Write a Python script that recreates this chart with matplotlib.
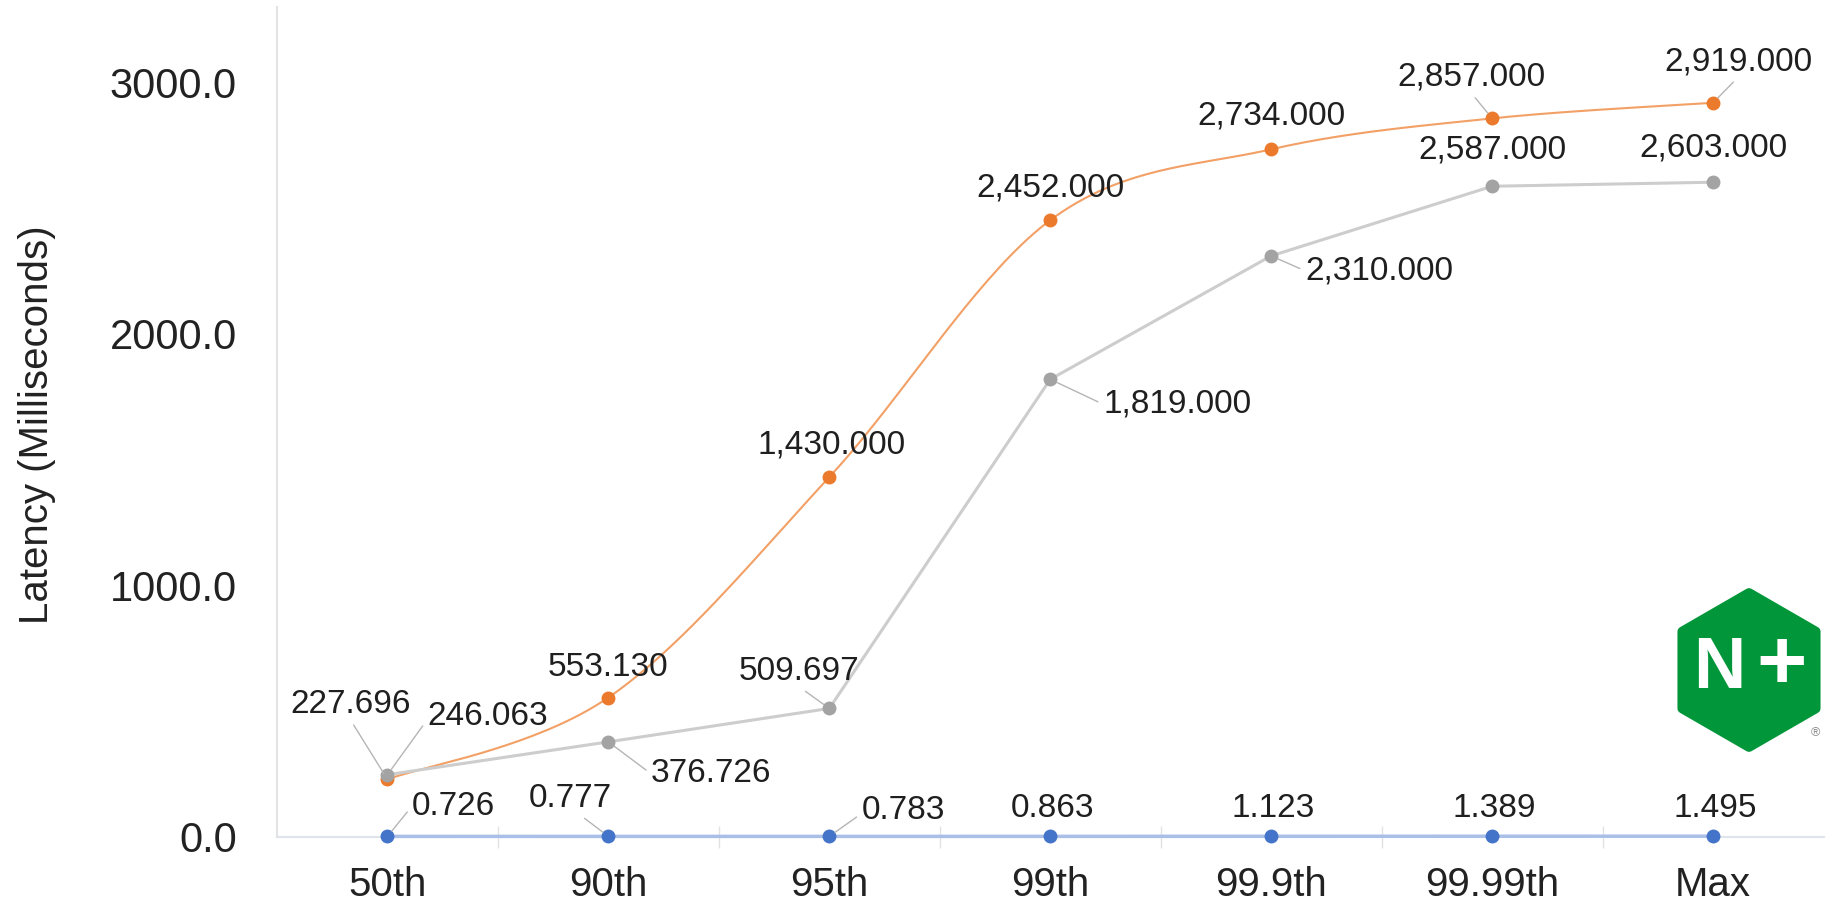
import numpy as np
import matplotlib
matplotlib.use('Agg')
import matplotlib.pyplot as plt
from matplotlib.patches import Polygon

plt.rcParams['font.family'] = ['Liberation Sans', 'DejaVu Sans']

# data
percentiles = ['50th', '90th', '95th', '99th', '99.9th', '99.99th', 'Max']
orange_vals = [227.696, 553.130, 1430.0, 2452.0, 2734.0, 2857.0, 2919.0]
gray_vals = [246.063, 376.726, 509.697, 1819.0, 2310.0, 2587.0, 2603.0]
blue_vals = [0.726, 0.777, 0.783, 0.863, 1.123, 1.389, 1.495]
y_ticks = [0, 1000, 2000, 3000]

# label placement: offset in pixels (dx, dy up) and where the leader leaves the label box
orange_off = [(-37, 75), (0, 30), (2, 32), (0, 32), (0, 33), (-21, 41), (25, 41)]
orange_lead = [(0.5, 0), None, None, None, None, (0.5, 0), (0.5, 0)]
gray_off = [(100, 58), (103, -32), (-30, 37), (127, -25), (108, -15), (0, 36), (0, 34)]
gray_lead = [(0, 0.4), (0, 0.5), (0.5, 0), (0, 0.5), (0, 0.5), None, None]
blue_off = [(66, 30), (-38, 38), (74, 26), (2, 28), (2, 28), (2, 28), (2, 28)]
blue_lead = [(0, 0.5), (0.6, 0), (0, 0.4), None, None, None, None]


def smooth(xs, ys, n=40):
    # catmull-rom through the points, like the office "smoothed line"
    px = np.concatenate([[xs[0]], xs, [xs[-1]]]).astype(float)
    py = np.concatenate([[ys[0]], ys, [ys[-1]]]).astype(float)
    t = np.linspace(0, 1, n)
    out_x, out_y = [], []
    for i in range(len(xs) - 1):
        for p, out in ((px, out_x), (py, out_y)):
            p0, p1, p2, p3 = p[i], p[i + 1], p[i + 2], p[i + 3]
            out.extend(0.5 * (2 * p1 + (-p0 + p2) * t
                              + (2 * p0 - 5 * p1 + 4 * p2 - p3) * t ** 2
                              + (-p0 + 3 * p1 - 3 * p2 + p3) * t ** 3))
    return out_x, out_y


fig = plt.figure(figsize=(18.27, 9.11), dpi=100)
ax = fig.add_axes([0.1516, 0.0817, 0.8465, 0.9106])

x = np.arange(len(percentiles))
sx, sy = smooth(x, orange_vals)
ax.plot(sx, sy, color='#f2a066', lw=1.5, zorder=2)
ax.plot(x, orange_vals, 'o', color='#ec7a2c', ms=9, zorder=3)
ax.plot(x, gray_vals, '-', color='#cdcdcd', lw=2.2, zorder=4)
ax.plot(x, gray_vals, 'o', color='#a3a3a3', ms=9, zorder=5)
ax.plot(x, blue_vals, '-', color='#a9bfe8', lw=2.5, zorder=6, clip_on=False)
ax.plot(x, blue_vals, 'o', color='#4474c9', ms=9, zorder=7, clip_on=False)

for vals, offs, leads in [(orange_vals, orange_off, orange_lead),
                          (gray_vals, gray_off, gray_lead),
                          (blue_vals, blue_off, blue_lead)]:
    for i, (v, off, lead) in enumerate(zip(vals, offs, leads)):
        props = None
        if lead is not None:
            props = dict(arrowstyle='-', color='#b5b5b5', lw=1.0, relpos=lead,
                         shrinkA=2, shrinkB=5)
        ax.annotate(f'{v:,.3f}', xy=(i, v), xytext=off, textcoords='offset pixels',
                    ha='center', va='center', fontsize=24, color='#1f1f1f',
                    arrowprops=props, zorder=10)

ax.set_xlim(-0.5, 6.5)
ax.set_ylim(0, 3300)
ax.set_xticks(x)
ax.set_xticklabels(percentiles, fontsize=29, color='#222222')
ax.set_yticks(y_ticks)
ax.set_yticklabels([f'{t:.1f}' for t in y_ticks], fontsize=30, color='#222222')
ax.set_xticks(np.arange(0.5, 6, 1), minor=True)
ax.tick_params(axis='x', which='major', length=0, pad=21)
ax.tick_params(axis='x', which='minor', direction='inout', length=16, width=1, color='#e2e2e2')
ax.tick_params(axis='y', length=0, pad=29)
for s in ['top', 'right']:
    ax.spines[s].set_visible(False)
ax.spines['left'].set_color('#e4e4e4')
ax.spines['left'].set_linewidth(1.5)
ax.spines['bottom'].set_color('#dfe3ea')
ax.spines['bottom'].set_linewidth(1.5)

fig.text(37 / 1827, 1 - 425 / 911, 'Latency (Milliseconds)', rotation=90,
         ha='center', va='center', fontsize=29, color='#222222')

# N+ logo, drawn in pixel units of its own little axes
lx0, lx1, ly0, ly1 = 1660, 1827, 570, 760
lax = fig.add_axes([lx0 / 1827, 1 - ly1 / 911, (lx1 - lx0) / 1827, (ly1 - ly0) / 911])
lax.set_xlim(lx0, lx1)
lax.set_ylim(ly1, ly0)
lax.axis('off')
cx, cy, r = 1749, 670, 77
ang = np.radians([90, 150, 210, 270, 330, 30])
hexagon = Polygon(np.column_stack([cx + r * np.cos(ang), cy - r * np.sin(ang)]),
                  closed=True, facecolor='#009639', edgecolor='#009639',
                  lw=7, joinstyle='round')
lax.add_patch(hexagon)
lax.text(1719, 669, 'N', color='white', fontsize=52, fontweight='bold', ha='center', va='center')
lax.text(1782, 667, '+', color='white', fontsize=62, fontweight='bold', ha='center', va='center')
lax.text(1815, 733, '\u00ae', color='#8a8a8a', fontsize=9, ha='center', va='center')

fig.savefig('out.png', dpi=100)
